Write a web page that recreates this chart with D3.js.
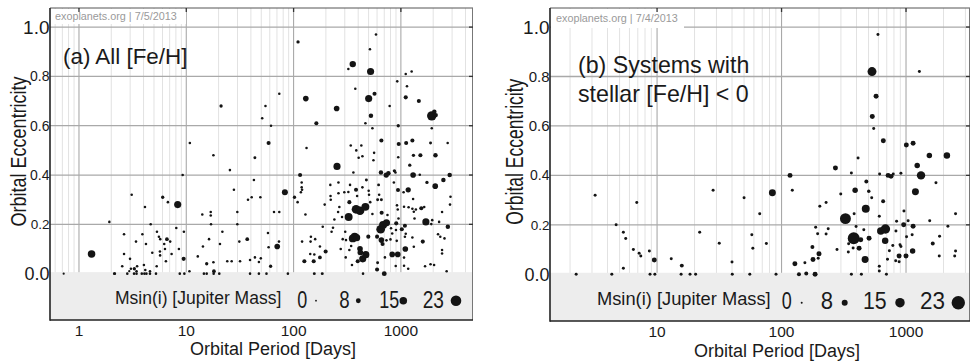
<!DOCTYPE html>
<html>
<head>
<meta charset="utf-8">
<script src="https://cdn.jsdelivr.net/npm/d3@7/dist/d3.min.js"></script>
<style>
  body { margin: 0; background: #fff; }
  svg { display: block; }
</style>
</head>
<body>
<div id="chart"></div>
<script>
// [orbital period (days), orbital eccentricity, Msin(i) (Jupiter masses)]
const planetsAll = [
  [0.72,0,1],[1.31,0.08,15],[1.92,0.21,2],[2.13,0,2],[2.16,0,2],[2.53,0.03,2],[2.63,0.16,2],[2.63,0.08,2],[2.82,0,2],[2.94,0.01,1],
  [2.99,0.06,2],[3.05,0.02,2],[3.10,0.32,2],[3.26,0,2],[3.28,0.02,4],[3.40,0.13,2],[3.44,0.01,2],[3.44,0,2],[3.48,0.03,2],[3.85,0,2],
  [3.90,0.16,2],[4.03,0.035,2],[4.07,0,2],[4.12,0.27,2],[4.15,0.015,2],[4.21,0.12,2],[4.25,0,2],[4.59,0.01,2],[4.59,0,2],[4.66,0.2,2],
  [4.82,0.085,2],[5.22,0,2],[5.30,0.03,2],[5.33,0.17,2],[5.56,0.15,2],[5.68,0.09,2],[5.70,0.074,2],[5.72,0.14,2],[6.03,0.31,4],[6.23,0.12,2],
  [6.33,0.10,2],[6.46,0.05,2],[6.60,0.14,5],[6.74,0.29,2],[7.08,0.13,2],[7.3,0.08,2],[8.07,0.185,2],[8.32,0.28,14],[8.54,0.10,2],[8.7,0,2],
  [9.25,0.40,2],[9.45,0.06,6],[9.5,0.17,2],[9.6,0,2],[10.7,0.01,2],[10.8,0.53,2],[12.8,0.07,2],[14.1,0.24,2],[14.3,0.11,2],[14.6,0,2],
  [15.5,0.04,4],[15.5,0,2],[16.3,0.14,2],[16.9,0.25,2],[16.9,0.236,2],[17.0,0.2,2],[17.9,0.48,2],[17.9,0.046,2],[18.0,0,2],[18.1,0.01,5],
  [20.3,0,2],[20.6,0.12,2],[21.1,0.68,4],[21.7,0.17,2],[24.1,0.05,2],[25.5,0.42,2],[26.5,0.05,2],[27.8,0.34,2],[29.9,0.25,2],[29.9,0.2,2],
  [31.2,0.13,2],[31.7,0.05,2],[37,0.14,5],[37.6,0.30,2],[39.3,0.055,2],[39.3,0,2],[40.7,0.31,2],[42.7,0.38,2],[43.6,0.47,3],[43.6,0.066,2],
  [47.5,0,2],[47.5,0.047,2],[49,0.31,2],[49.5,0.062,2],[51,0.63,2],[54.7,0.68,2],[55.9,0,2],[57.7,0.165,2],[58.5,0.53,6],[58.5,0.107,2],
  [61.1,0.03,4],[61.6,0.60,2],[65.7,0.25,2],[70.4,0.11,10],[73.1,0.13,2],[73.6,0.25,2],[73.6,0.73,2],[83,0.33,11],[88.5,0,2],[102,0.31,4],
  [109,0.29,2],[110,0.94,4],[115,0.40,6],[117,0.33,2],[119,0.37,2],[119,0.35,2],[120,0.34,2],[120,0.13,2],[126,0.05,6],[129,0.24,2],
  [130,0.71,10],[132,0.51,2],[143,0.08,2],[144,0.13,2],[145,0.15,2],[154,0.05,6],[156,0.078,2],[156,0,3],[159,0.14,2],[163,0.61,6],
  [176,0.11,2],[176,0.066,5],[185,0,3],[187,0.19,2],[195,0.28,2],[199,0.09,6],[220,0.36,2],[221,0.315,2],[222,0.3,2],[226,0.17,2],
  [233,0.186,2],[240,0.22,2],[252,0.67,10],[254,0.435,14],[262,0.37,2],[262,0.326,2],[267,0.27,2],[260,0.25,2],[275,0.10,2],[283,0.23,2],
  [287,0.14,2],[297,0.33,2],[303,0.17,2],[306,0.066,2],[308,0.136,2],[324,0.83,2],[324,0.331,2],[326,0.23,16],[331,0.29,6],[331,0.096,2],
  [336,0.36,2],[341,0.52,2],[344,0.112,2],[350,0.035,2],[356,0.85,12],[356,0.143,16],[361,0.41,2],[371,0.15,16],[376,0.75,2],[382,0.34,6],
  [382,0.261,18],[384,0.50,2],[387,0.146,14],[391,0.315,2],[396,0.05,6],[404,0.47,2],[416,0.255,18],[416,0.101,10],[419,0.086,10],[428,0.52,2],
  [438,0.476,2],[438,0.35,2],[441,0.06,14],[444,0,2],[467,0.61,2],[467,0.271,16],[471,0.077,14],[477,0.38,3],[497,0.15,6],[501,0.71,14],
  [501,0.336,2],[505,0.32,2],[515,0.91,2],[518,0.29,2],[522,0.82,14],[526,0.64,7],[543,0.59,2],[543,0.242,2],[555,0.46,2],[563,0.49,2],
  [568,0.73,6],[586,0.97,2],[600,0.15,6],[600,0.017,6],[607,0.30,3],[607,0.044,3],[620,0.36,3],[627,0.32,2],[648,0.18,18],[652,0.41,7],
  [658,0.54,6],[658,0.30,3],[658,0.136,10],[662,0.247,6],[675,0.12,6],[682,0.197,16],[700,0,8],[710,0.066,2],[730,0.40,9],[734,0.206,14],
  [734,0.135,2],[750,0.238,2],[765,0.407,7],[786,0.68,2],[800,0.139,2],[810,0.184,2],[830,0.163,2],[830,0.078,10],[860,0.37,2],[870,0.417,4],
  [890,0.41,2],[895,0.031,2],[900,0.177,2],[905,0.204,6],[915,0.133,2],[920,0.277,2],[925,0.78,2],[935,0.26,2],[935,0.078,10],[940,0.339,6],
  [945,0.60,4],[945,0.472,2],[950,0.224,2],[955,0.526,6],[1020,0.18,6],[1060,0.33,2],[1070,0.271,2],[1070,0.065,2],[1070,0.032,2],[1090,0.194,6],
  [1090,0.15,2],[1100,0.10,10],[1110,0.81,2],[1110,0.715,6],[1110,0.162,2],[1120,0.53,6],[1140,0.76,2],[1170,0.34,9],[1170,0.02,2],[1180,0.269,2],
  [1210,0.44,4],[1260,0.82,2],[1280,0.54,6],[1280,0.263,2],[1280,0.147,2],[1300,0.40,10],[1300,0.303,2],[1310,0.48,4],[1320,0.251,2],[1320,0.109,2],
  [1340,0.224,2],[1380,0.26,2],[1470,0.70,6],[1500,0.401,2],[1520,0.48,6],[1550,0.265,6],[1600,0.13,6],[1650,0.27,2],[1680,0.03,2],[1710,0.21,14],
  [1750,0.37,4],[1890,0.53,3],[1890,0.038,2],[1920,0.201,2],[1940,0.64,20],[1940,0.59,2],[1960,0.217,2],[2040,0.035,2],[2050,0.657,7],[2090,0.355,10],
  [2100,0.48,7],[2110,0.643,7],[2220,0.16,2],[2270,0.21,2],[2330,0.15,2],[2420,0.25,2],[2420,0.096,2],[2420,0.082,2],[2490,0.38,7],[2550,0.143,2],
  [2670,0.01,2],[2730,0.53,2],[2740,0.19,7],[2850,0.40,7],[2870,0.28,2],[2900,0.312,2]
];

// systems with stellar [Fe/H] < 0
const planetsLowFeH = [
  [2.24,0,2],[3.18,0.32,2],[4.33,0,2],[4.69,0.20,2],[5.36,0.17,2],[5.6,0.145,2],[5.36,0.024,2],[6.45,0.10,2],[6.87,0.29,2],[7.18,0.085,2],
  [7.4,0.074,2],[8.67,0.094,2],[8.78,0,2],[9.6,0,2],[9.5,0.058,6],[13,0.063,2],[15.8,0.035,4],[15.6,0,2],[18.4,0,2],[20.4,0,2],
  [22,0.17,2],[28.2,0.34,2],[31.6,0.125,2],[40,0.05,2],[40.2,0,2],[50,0.31,2],[55.6,0,2],[57.7,0.16,2],[58.8,0.105,2],[66.8,0.245,2],
  [75.5,0.124,2],[84.4,0.33,10],[90.3,0,2],[117,0.40,6],[122,0.34,2],[128,0.043,6],[138,0,4],[154,0.047,2],[158,0.003,4],[177,0.11,4],
  [179,0.06,6],[186,0,6],[188,0.19,2],[195,0.164,2],[197,0.065,2],[200,0.083,6],[203,0.275,2],[228,0.29,2],[228,0.163,2],[237,0.184,2],
  [271,0.43,6],[279,0.10,2],[299,0.325,2],[326,0.225,18],[344,0.09,2],[346,0.123,2],[364,0.41,2],[364,0,2],[376,0.106,2],[380,0.146,20],
  [383,0.245,2],[390,0.34,7],[397,0.193,2],[412,0.47,2],[420,0.105,6],[433,0.14,6],[438,0,2],[458,0.18,2],[469,0.06,10],[475,0.265,12],
  [480,0.375,4],[502,0.336,3],[505,0.146,6],[530,0.31,2],[533,0.82,14],[536,0.638,6],[550,0.59,2],[575,0.72,6],[595,0.97,2],[610,0.235,2],
  [610,0.032,2],[610,0.013,2],[614,0.406,2],[627,0.175,11],[655,0.295,4],[657,0.54,6],[680,0.136,9],[683,0.183,15],[696,0,2],[710,0.061,2],
  [718,0.40,6],[735,0.095,2],[758,0.396,6],[783,0.116,2],[790,0.406,2],[826,0.055,2],[830,0.175,2],[840,0.214,2],[880,0.074,6],[880,0.051,2],
  [895,0.119,2],[910,0.409,2],[910,0.112,2],[958,0.20,6],[962,0.256,2],[1000,0.074,6],[1006,0.523,6],[1010,0.152,2],[1040,0.216,2],[1120,0.16,2],
  [1130,0.094,7],[1140,0.53,6],[1140,0.194,6],[1190,0.334,10],[1230,0.44,7],[1280,0.82,2],[1320,0.40,13],[1540,0.48,7],[1550,0.216,2],[1640,0.124,4],
  [1740,0.37,2],[1850,0.074,2],[1860,0.154,2],[2130,0.48,9],[2170,0.194,2],[2460,0.074,2],[2500,0.094,2],[2500,0.245,2]
];

const periodTicksA = [1, 10, 100, 1000];
const periodTicksB = [10, 100, 1000];
const eccTicks = [0, 0.2, 0.4, 0.6, 0.8, 1.0];
const legendMasses = [0, 8, 15, 23];

const W = 970, H = 363;
const SANS = "'Liberation Sans', Arial, Helvetica, sans-serif";
const NARROW = "'Liberation Sans Narrow', 'Arial Narrow', 'Liberation Sans', sans-serif";

const panels = [
  {
    data: planetsAll, xTicks: periodTicksA,
    left: 50, right: 473, top: 8, bottom: 320,
    xDomain: [0.537, 4700], yDomain: [-0.188, 1.0775], rRange: [0.9, 5.3],
    title: ["(a) All [Fe/H]"], titleX: 63, titleY: 64, titleSize: 22.4,
    stamp: "exoplanets.org | 7/5/2013", stampX: 55, stampY: 20, stampW: 135, stampH: 15,
    yLabelSizes: [18, 13.5, 14, 14, 14, 19],
    yTitleX: 26, yTitleSize: 22.5, yTitleLen: 150,
    xTitleX: 273, xTitleY: 355, xLabelY: 335.5,
    legendX: 115, legendY: 304, legendSize: 17.5,
    digitX: [297.3, 339.3, 379.3, 422.7], digitW: [10, 10.4, 20, 21.3], digitSize: 23, digitY: 308,
    dotX: [316, 358.3, 403.3, 456], dotY: 300.7
  },
  {
    data: planetsLowFeH, xTicks: periodTicksB,
    left: 550, right: 970, top: 8, bottom: 321,
    xDomain: [1.38, 3266], yDomain: [-0.189, 1.077], rRange: [1.0, 6.7],
    title: ["(b) Systems with", "stellar [Fe/H] < 0"], titleX: 578, titleY: 73, titleSize: 23.2,
    stamp: "exoplanets.org | 7/4/2013", stampX: 556, stampY: 22, stampW: 133, stampH: 19,
    yLabelSizes: [18, 13.5, 14, 15, 15, 19],
    yTitleX: 523, yTitleSize: 23.5, yTitleLen: 146,
    xTitleX: 777, xTitleY: 357, xLabelY: 336.5,
    legendX: 597, legendY: 305, legendSize: 18.3,
    digitX: [781.7, 820.7, 863, 920], digitW: [10, 12.3, 23.7, 25], digitSize: 24.5, digitY: 308.5,
    dotX: [801.7, 844.7, 900, 958.3], dotY: 302.7
  }
];

const svg = d3.select("#chart").append("svg")
  .attr("width", W)
  .attr("height", H)
  .style("font-family", SANS);

panels.forEach((p, i) => drawPanel(p, i));

function drawPanel(p, i) {
  const x = d3.scaleLog().domain(p.xDomain).range([p.left, p.right]);
  const y = d3.scaleLinear().domain(p.yDomain).range([p.bottom, p.top]);
  const r = d3.scaleLinear().domain([0, 23]).range(p.rRange);

  const g = svg.append("g");

  g.append("clipPath").attr("id", "clip" + i)
    .append("rect")
    .attr("x", p.left).attr("y", p.top)
    .attr("width", p.right - p.left).attr("height", p.bottom - p.top);

  const isMajor = v => Math.abs(Math.log10(v) - Math.round(Math.log10(v))) < 1e-9;
  const minorX = x.ticks().filter(v => !isMajor(v));
  const majorX = x.ticks().filter(isMajor);

  // minor period gridlines
  g.append("g").selectAll("line").data(minorX).join("line")
    .attr("x1", d => x(d)).attr("x2", d => x(d))
    .attr("y1", p.top).attr("y2", p.bottom)
    .attr("stroke", "#e2e2e2").attr("stroke-width", 1);

  // decade gridlines
  g.append("g").selectAll("line").data(majorX).join("line")
    .attr("x1", d => x(d)).attr("x2", d => x(d))
    .attr("y1", p.top).attr("y2", p.bottom)
    .attr("stroke", "#a9a9a9").attr("stroke-width", 1.1);

  // eccentricity gridlines
  g.append("g").selectAll("line").data(eccTicks.filter(d => d > 0)).join("line")
    .attr("x1", p.left).attr("x2", p.right)
    .attr("y1", d => y(d)).attr("y2", d => y(d))
    .attr("stroke", "#a9a9a9").attr("stroke-width", 1.3);

  // legend band below e = 0
  g.append("rect")
    .attr("x", p.left).attr("y", y(0) - 1.5)
    .attr("width", p.right - p.left).attr("height", p.bottom - y(0) + 1.5)
    .attr("fill", "#ededed");

  // stamp
  g.append("rect")
    .attr("x", p.left + 1).attr("y", p.top + 1)
    .attr("width", p.stampW).attr("height", p.stampH)
    .attr("fill", "#fff");
  g.append("text")
    .attr("x", p.stampX).attr("y", p.stampY)
    .attr("font-size", 10.8).attr("fill", "#9a9a9a")
    .text(p.stamp);

  // frame
  g.append("line").attr("x1", p.left).attr("x2", p.right).attr("y1", p.top).attr("y2", p.top)
    .attr("stroke", "#555").attr("stroke-width", 1);
  g.append("line").attr("x1", p.right - 0.5).attr("x2", p.right - 0.5).attr("y1", p.top).attr("y2", p.bottom)
    .attr("stroke", "#777").attr("stroke-width", 1);
  g.append("g").selectAll("line").data(majorX).join("line")
    .attr("x1", d => x(d)).attr("x2", d => x(d))
    .attr("y1", p.top).attr("y2", p.top + 4)
    .attr("stroke", "#333").attr("stroke-width", 1.3);
  g.append("g").selectAll("line").data(eccTicks.filter(d => d > 0)).join("line")
    .attr("x1", p.right - 4).attr("x2", p.right)
    .attr("y1", d => y(d)).attr("y2", d => y(d))
    .attr("stroke", "#333").attr("stroke-width", 1.3);
  g.append("line").attr("x1", p.left).attr("x2", p.left).attr("y1", p.top).attr("y2", p.bottom + 0.8)
    .attr("stroke", "#222").attr("stroke-width", 1.6);
  g.append("line").attr("x1", p.left).attr("x2", p.right).attr("y1", p.bottom).attr("y2", p.bottom)
    .attr("stroke", "#222").attr("stroke-width", 1.6);

  // planets
  g.append("g").attr("clip-path", `url(#clip${i})`)
    .selectAll("circle").data(p.data).join("circle")
    .attr("cx", d => x(d[0]))
    .attr("cy", d => y(d[1]))
    .attr("r", d => r(d[2]))
    .attr("fill", "#141414");

  // panel title
  g.append("text")
    .attr("x", p.titleX).attr("y", p.titleY)
    .attr("font-size", p.titleSize).attr("fill", "#1a1a1a")
    .selectAll("tspan").data(p.title).join("tspan")
    .attr("x", p.titleX)
    .attr("dy", (d, k) => k === 0 ? 0 : "1.23em")
    .text(d => d);

  // y tick labels
  g.append("g").selectAll("text").data(eccTicks).join("text")
    .attr("x", p.left - 0.5)
    .attr("y", d => y(d))
    .attr("dy", "0.36em")
    .attr("text-anchor", "end")
    .attr("font-size", (d, k) => p.yLabelSizes[k])
    .attr("fill", "#1a1a1a")
    .text(d => d.toFixed(1));

  // x tick labels
  g.append("g").selectAll("text").data(p.xTicks).join("text")
    .attr("x", d => x(d))
    .attr("y", p.xLabelY)
    .attr("text-anchor", "middle")
    .attr("font-size", 15.5)
    .attr("fill", "#1a1a1a")
    .text(d => d);

  // axis titles
  g.append("text")
    .attr("transform", `translate(${p.yTitleX},${(y(0) + y(1)) / 2 + 1}) rotate(-90)`)
    .attr("text-anchor", "middle")
    .attr("font-size", p.yTitleSize)
    .attr("textLength", p.yTitleLen)
    .attr("lengthAdjust", "spacingAndGlyphs")
    .attr("fill", "#1a1a1a")
    .text("Orbital Eccentricity");
  g.append("text")
    .attr("x", p.xTitleX).attr("y", p.xTitleY)
    .attr("text-anchor", "middle")
    .attr("font-size", 18)
    .attr("fill", "#1a1a1a")
    .text("Orbital Period [Days]");

  // mass legend
  g.append("text")
    .attr("x", p.legendX).attr("y", p.legendY)
    .attr("font-size", p.legendSize)
    .attr("fill", "#1a1a1a")
    .text("Msin(i) [Jupiter Mass]");
  g.append("g").selectAll("text").data(legendMasses).join("text")
    .attr("x", (d, k) => p.digitX[k])
    .attr("y", p.digitY)
    .attr("font-size", p.digitSize)
    .attr("font-family", NARROW)
    .attr("textLength", (d, k) => p.digitW[k])
    .attr("lengthAdjust", "spacingAndGlyphs")
    .attr("fill", "#1a1a1a")
    .text(d => d);
  g.append("g").selectAll("circle").data(legendMasses).join("circle")
    .attr("cx", (d, k) => p.dotX[k])
    .attr("cy", p.dotY)
    .attr("r", d => r(d))
    .attr("fill", "#141414");
}
</script>
</body>
</html>
